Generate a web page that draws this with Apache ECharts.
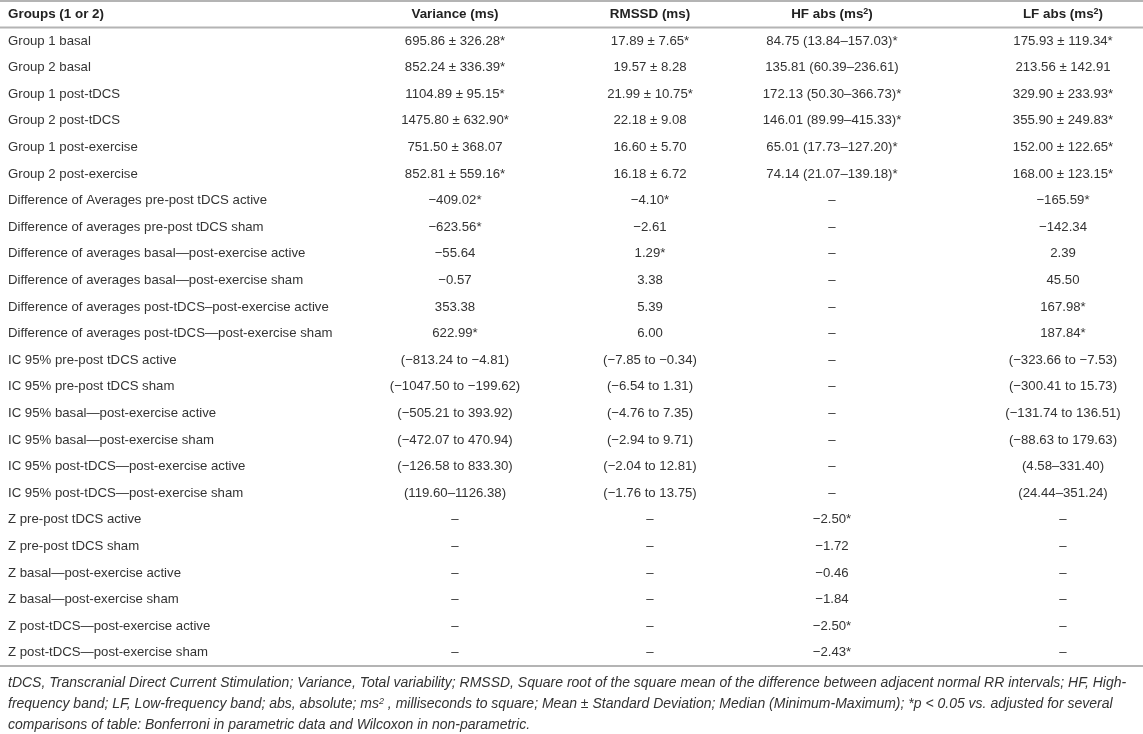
<!DOCTYPE html>
<html>
<head>
<meta charset="utf-8">
<script src="https://cdn.jsdelivr.net/npm/echarts@6/dist/echarts.min.js"></script>
<style>
  html, body { margin: 0; padding: 0; background: #fff; }
  #main { width: 1143px; height: 734px; }
</style>
</head>
<body>
<div id="main"></div>
<script>
var headers = ['Groups (1 or 2)', 'Variance (ms)', 'RMSSD (ms)', 'HF abs (ms{sup|2})', 'LF abs (ms{sup|2})'];

var rowLabels = [
    'Group 1 basal', 'Group 2 basal', 'Group 1 post-tDCS', 'Group 2 post-tDCS',
    'Group 1 post-exercise', 'Group 2 post-exercise',
    'Difference of Averages pre-post tDCS active', 'Difference of averages pre-post tDCS sham',
    'Difference of averages basal\u2014post-exercise active', 'Difference of averages basal\u2014post-exercise sham',
    'Difference of averages post-tDCS\u2013post-exercise active', 'Difference of averages post-tDCS\u2014post-exercise sham',
    'IC 95% pre-post tDCS active', 'IC 95% pre-post tDCS sham',
    'IC 95% basal\u2014post-exercise active', 'IC 95% basal\u2014post-exercise sham',
    'IC 95% post-tDCS\u2014post-exercise active', 'IC 95% post-tDCS\u2014post-exercise sham',
    'Z pre-post tDCS active', 'Z pre-post tDCS sham',
    'Z basal\u2014post-exercise active', 'Z basal\u2014post-exercise sham',
    'Z post-tDCS\u2014post-exercise active', 'Z post-tDCS\u2014post-exercise sham'
];

var variance = [
    '695.86 \u00b1 326.28*', '852.24 \u00b1 336.39*', '1104.89 \u00b1 95.15*', '1475.80 \u00b1 632.90*',
    '751.50 \u00b1 368.07', '852.81 \u00b1 559.16*',
    '\u2212409.02*', '\u2212623.56*', '\u221255.64', '\u22120.57', '353.38', '622.99*',
    '(\u2212813.24 to \u22124.81)', '(\u22121047.50 to \u2212199.62)', '(\u2212505.21 to 393.92)',
    '(\u2212472.07 to 470.94)', '(\u2212126.58 to 833.30)', '(119.60\u20131126.38)',
    '\u2013', '\u2013', '\u2013', '\u2013', '\u2013', '\u2013'
];

var rmssd = [
    '17.89 \u00b1 7.65*', '19.57 \u00b1 8.28', '21.99 \u00b1 10.75*', '22.18 \u00b1 9.08',
    '16.60 \u00b1 5.70', '16.18 \u00b1 6.72',
    '\u22124.10*', '\u22122.61', '1.29*', '3.38', '5.39', '6.00',
    '(\u22127.85 to \u22120.34)', '(\u22126.54 to 1.31)', '(\u22124.76 to 7.35)',
    '(\u22122.94 to 9.71)', '(\u22122.04 to 12.81)', '(\u22121.76 to 13.75)',
    '\u2013', '\u2013', '\u2013', '\u2013', '\u2013', '\u2013'
];

var hfAbs = [
    '84.75 (13.84\u2013157.03)*', '135.81 (60.39\u2013236.61)', '172.13 (50.30\u2013366.73)*',
    '146.01 (89.99\u2013415.33)*', '65.01 (17.73\u2013127.20)*', '74.14 (21.07\u2013139.18)*',
    '\u2013', '\u2013', '\u2013', '\u2013', '\u2013', '\u2013',
    '\u2013', '\u2013', '\u2013', '\u2013', '\u2013', '\u2013',
    '\u22122.50*', '\u22121.72', '\u22120.46', '\u22121.84', '\u22122.50*', '\u22122.43*'
];

var lfAbs = [
    '175.93 \u00b1 119.34*', '213.56 \u00b1 142.91', '329.90 \u00b1 233.93*', '355.90 \u00b1 249.83*',
    '152.00 \u00b1 122.65*', '168.00 \u00b1 123.15*',
    '\u2212165.59*', '\u2212142.34', '2.39', '45.50', '167.98*', '187.84*',
    '(\u2212323.66 to \u22127.53)', '(\u2212300.41 to 15.73)', '(\u2212131.74 to 136.51)',
    '(\u221288.63 to 179.63)', '(4.58\u2013331.40)', '(24.44\u2013351.24)',
    '\u2013', '\u2013', '\u2013', '\u2013', '\u2013', '\u2013'
];

var footnotes = [
    'tDCS, Transcranial Direct Current Stimulation; Variance, Total variability; RMSSD, Square root of the square mean of the difference between adjacent normal RR intervals; HF, High-',
    'frequency band; LF, Low-frequency band; abs, absolute; ms{sup|2} , milliseconds to square; Mean \u00b1 Standard Deviation; Median (Minimum-Maximum); *p < 0.05 vs. adjusted for several',
    'comparisons of table: Bonferroni in parametric data and Wilcoxon in non-parametric.'
];

// layout (pixels)
var W = 1143, TOP = 1, BOTTOM_RULE = 666;
var COL_X = [8, 455, 650, 832, 1063];
var FONT = '"Liberation Sans", Arial, Helvetica, sans-serif';

var columns = [rowLabels, variance, rmssd, hfAbs, lfAbs];
var rowCats = ['header'].concat(rowLabels);

// cells: [col, row, text]
var cells = [];
headers.forEach(function (h, c) { cells.push([c, 0, h]); });
columns.forEach(function (col, c) {
    col.forEach(function (t, r) { cells.push([c, r + 1, t]); });
});

var myChart = echarts.init(document.getElementById('main'), null, { renderer: 'canvas' });

var bandH = (BOTTOM_RULE - TOP) / rowCats.length;

myChart.setOption({
    animation: false,
    grid: { left: 0, right: 0, top: TOP, height: BOTTOM_RULE - TOP },
    xAxis: { type: 'value', min: 0, max: W, show: false },
    yAxis: { type: 'category', data: rowCats, inverse: true, show: false },
    series: [{
        type: 'custom',
        coordinateSystem: 'cartesian2d',
        data: cells.map(function (d) { return [d[0], d[1]]; }),
        renderItem: function (params, api) {
            var cell = cells[params.dataIndex];
            var col = cell[0], row = cell[1];
            var pt = api.coord([COL_X[col], row]);
            var isHead = row === 0;
            return {
                type: 'text',
                style: {
                    x: pt[0],
                    y: pt[1],
                    text: cell[2],
                    align: col === 0 ? 'left' : 'center',
                    verticalAlign: 'middle',
                    fill: isHead ? '#222' : '#333',
                    fontFamily: FONT,
                    fontSize: isHead ? 13.4 : 13.2,
                    fontWeight: isHead ? 'bold' : 'normal',
                    rich: {
                        sup: { fontSize: 9, verticalAlign: 'top', padding: [0, 0, 6, 0],
                               fontWeight: 'bold', fontFamily: FONT, fill: '#222' }
                    }
                }
            };
        }
    }],
    graphic: [
        { type: 'line', shape: { x1: 0, y1: TOP, x2: W, y2: TOP },
          style: { stroke: '#b4b4b4', lineWidth: 2 } },
        { type: 'line', shape: { x1: 0, y1: TOP + bandH, x2: W, y2: TOP + bandH },
          style: { stroke: '#b4b4b4', lineWidth: 2 } },
        { type: 'line', shape: { x1: 0, y1: BOTTOM_RULE, x2: W, y2: BOTTOM_RULE },
          style: { stroke: '#b4b4b4', lineWidth: 2 } }
    ].concat(footnotes.map(function (t, i) {
        return {
            type: 'text',
            left: 8,
            top: 676 + i * 21,
            style: {
                text: t,
                fill: '#333',
                font: 'italic 14px ' + FONT,
                rich: {
                    sup: { fontSize: 9, fontStyle: 'italic', verticalAlign: 'top', padding: [0, 0, 6, 0],
                           fontFamily: FONT, fill: '#333' }
                }
            }
        };
    }))
});
</script>
</body>
</html>
